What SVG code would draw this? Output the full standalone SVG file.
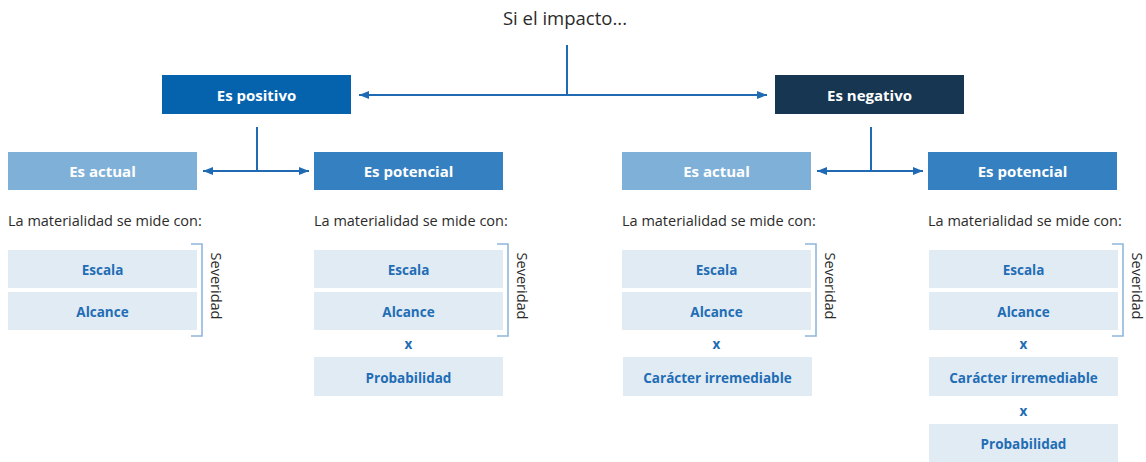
<svg xmlns="http://www.w3.org/2000/svg" width="1146" height="462" viewBox="0 0 1146 462">
<style>
.t{font-family:"Open Sans","Liberation Sans",sans-serif}
.hd{font-size:15px;font-weight:700;fill:#ffffff;text-anchor:middle;dominant-baseline:central}
.lb{font-size:13.5px;font-weight:700;fill:#1f6db5;text-anchor:middle;dominant-baseline:central}
.cap{font-size:14.5px;fill:#2b2b2b}
.sev{font-size:14.5px;fill:#2b2b2b;text-anchor:middle;dominant-baseline:central}
.lt{fill:#e1ebf4}
.ln{stroke:#1f6ab3;stroke-width:2;fill:none}
.br{stroke:#8fb7dc;stroke-width:1.6;fill:none}
</style>
<defs>
<marker id="ah" viewBox="0 0 10 10" refX="10" refY="5" markerWidth="5" markerHeight="5" orient="auto-start-reverse">
<path d="M0,1 L10,5 L0,9 Z" fill="#1f6ab3"/>
</marker>
</defs>
<rect width="1146" height="462" fill="#ffffff"/>
<text class="t" x="565" y="25" font-size="18.5" fill="#2b2b2b" text-anchor="middle">Si el impacto...</text>

<g id="connectors">
<line class="ln" x1="567" y1="45" x2="567" y2="95"/>
<line class="ln" x1="359" y1="95" x2="767" y2="95" marker-start="url(#ah)" marker-end="url(#ah)"/>
<line class="ln" x1="257" y1="127" x2="257" y2="171"/>
<line class="ln" x1="203" y1="171" x2="309" y2="171" marker-start="url(#ah)" marker-end="url(#ah)"/>
<line class="ln" x1="871" y1="127" x2="871" y2="171"/>
<line class="ln" x1="817" y1="171" x2="923" y2="171" marker-start="url(#ah)" marker-end="url(#ah)"/>
</g>

<g id="es-positivo"><rect x="162" y="75" width="189" height="39" fill="#0563ae"/><text class="t hd" x="256.5" y="95">Es positivo</text></g>
<g id="es-negativo"><rect x="775" y="75" width="189" height="39" fill="#163652"/><text class="t hd" x="869.5" y="95">Es negativo</text></g>

<g id="pos-actual"><rect x="8" y="152" width="189" height="38" fill="#7fb0d8"/><text class="t hd" x="102.5" y="171">Es actual</text></g>
<g id="pos-potencial"><rect x="314" y="152" width="189" height="38" fill="#3580c0"/><text class="t hd" x="408.5" y="171">Es potencial</text></g>
<g id="neg-actual"><rect x="622" y="152" width="189" height="38" fill="#7fb0d8"/><text class="t hd" x="716.5" y="171">Es actual</text></g>
<g id="neg-potencial"><rect x="928" y="152" width="189" height="38" fill="#3580c0"/><text class="t hd" x="1022.5" y="171">Es potencial</text></g>

<g id="col1">
<text class="t cap" x="8" y="226">La materialidad se mide con:</text>
<rect class="lt" x="8" y="250" width="189" height="38"/><text class="t lb" x="102.5" y="270">Escala</text>
<rect class="lt" x="8" y="292" width="189" height="38"/><text class="t lb" x="102.5" y="312">Alcance</text>
<path class="br" d="M191,244 H202 V336 H191"/>
<text class="t sev" transform="translate(216,286) rotate(90)">Severidad</text>
</g>

<g id="col2">
<text class="t cap" x="314" y="226">La materialidad se mide con:</text>
<rect class="lt" x="314" y="250" width="189" height="38"/><text class="t lb" x="408.5" y="270">Escala</text>
<rect class="lt" x="314" y="292" width="189" height="38"/><text class="t lb" x="408.5" y="312">Alcance</text>
<path class="br" d="M497,244 H508 V336 H497"/>
<text class="t sev" transform="translate(522,286) rotate(90)">Severidad</text>
<text class="t lb" x="408.5" y="344">x</text>
<rect class="lt" x="314" y="357" width="189" height="39"/><text class="t lb" x="408.5" y="377.5">Probabilidad</text>
</g>

<g id="col3">
<text class="t cap" x="622" y="226">La materialidad se mide con:</text>
<rect class="lt" x="622" y="250" width="189" height="38"/><text class="t lb" x="716.5" y="270">Escala</text>
<rect class="lt" x="622" y="292" width="189" height="38"/><text class="t lb" x="716.5" y="312">Alcance</text>
<path class="br" d="M805,244 H816 V336 H805"/>
<text class="t sev" transform="translate(830,286) rotate(90)">Severidad</text>
<text class="t lb" x="716.5" y="344">x</text>
<rect class="lt" x="623" y="357" width="189" height="39"/><text class="t lb" x="717.5" y="377.5">Carácter irremediable</text>
</g>

<g id="col4">
<text class="t cap" x="928" y="226">La materialidad se mide con:</text>
<rect class="lt" x="929" y="250" width="189" height="38"/><text class="t lb" x="1023.5" y="270">Escala</text>
<rect class="lt" x="929" y="292" width="189" height="38"/><text class="t lb" x="1023.5" y="312">Alcance</text>
<path class="br" d="M1112,244 H1123 V336 H1112"/>
<text class="t sev" transform="translate(1137,286) rotate(90)">Severidad</text>
<text class="t lb" x="1023.5" y="344">x</text>
<rect class="lt" x="929" y="357" width="189" height="39"/><text class="t lb" x="1023.5" y="377.5">Carácter irremediable</text>
<text class="t lb" x="1023.5" y="411">x</text>
<rect class="lt" x="929" y="424" width="189" height="38"/><text class="t lb" x="1023.5" y="444">Probabilidad</text>
</g>
</svg>
